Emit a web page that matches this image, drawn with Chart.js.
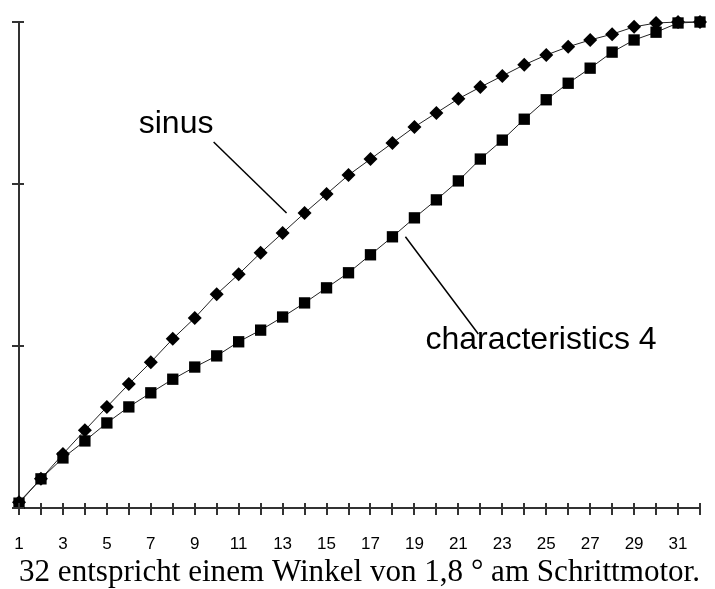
<!DOCTYPE html>
<html>
<head>
<meta charset="utf-8">
<script src="https://cdn.jsdelivr.net/npm/chart.js@4"></script>
<style>
  html, body { margin: 0; padding: 0; background: #fff; }
  canvas { display: block; }
</style>
</head>
<body>
<canvas id="myChart" width="715" height="589"></canvas>
<script>
const canvas = document.getElementById('myChart');
const ctx = canvas.getContext('2d');

// step number along the x axis
const steps = ['1', '2', '3', '4', '5', '6', '7', '8', '9', '10', '11', '12', '13', '14', '15', '16',
  '17', '18', '19', '20', '21', '22', '23', '24', '25', '26', '27', '28', '29', '30', '31', '32'];

// sine reference curve
const sinusValues = [0.012, 0.060, 0.111, 0.160, 0.208, 0.255, 0.300, 0.348, 0.391, 0.440, 0.481, 0.525,
  0.566, 0.607, 0.646, 0.685, 0.718, 0.751, 0.784, 0.813, 0.842, 0.866, 0.889, 0.912,
  0.932, 0.949, 0.963, 0.975, 0.990, 0.998, 1.000, 1.000];

// measured characteristics 4
const charValues = [0.010, 0.060, 0.103, 0.138, 0.175, 0.208, 0.237, 0.265, 0.290, 0.313, 0.342, 0.366,
  0.393, 0.422, 0.453, 0.484, 0.521, 0.558, 0.597, 0.634, 0.673, 0.718, 0.757, 0.800,
  0.840, 0.874, 0.905, 0.938, 0.963, 0.979, 0.998, 1.000];

const yTicks = [0, 0.3333, 0.6667, 1];

const caption = '32 entspricht einem Winkel von 1,8 \u00b0 am Schrittmotor.';

// callout labels with their leader lines, in data units (x = step index)
const notes = [
  { text: 'sinus', tx: 5.45, ty: 0.772, from: [8.86, 0.753], to: [12.18, 0.607] },
  { text: 'characteristics 4', tx: 18.5, ty: 0.327, from: [17.59, 0.558], to: [20.91, 0.358] }
];

// tick marks that cross the axis lines
const crossTicks = {
  id: 'crossTicks',
  afterDraw(chart) {
    const { ctx, scales: { x, y }, chartArea } = chart;
    ctx.save();
    ctx.strokeStyle = '#333';
    ctx.lineWidth = 2;
    ctx.beginPath();
    steps.forEach((s, i) => {
      const px = Math.round(x.getPixelForTick(i));
      ctx.moveTo(px, chartArea.bottom - 5);
      ctx.lineTo(px, chartArea.bottom + 7);
    });
    yTicks.forEach(v => {
      const py = Math.round(y.getPixelForValue(v));
      ctx.moveTo(chartArea.left - 7, py);
      ctx.lineTo(chartArea.left + 5, py);
    });
    ctx.stroke();
    ctx.restore();
  }
};

const callouts = {
  id: 'callouts',
  afterDraw(chart) {
    const { ctx, scales: { x, y } } = chart;
    ctx.save();
    ctx.fillStyle = '#000';
    ctx.strokeStyle = '#000';
    ctx.lineWidth = 1.5;
    ctx.font = '32px "Liberation Sans", Arial, sans-serif';
    ctx.textBaseline = 'alphabetic';
    notes.forEach(n => {
      ctx.fillText(n.text, x.getPixelForValue(n.tx), y.getPixelForValue(n.ty));
      ctx.beginPath();
      ctx.moveTo(x.getPixelForValue(n.from[0]), y.getPixelForValue(n.from[1]));
      ctx.lineTo(x.getPixelForValue(n.to[0]), y.getPixelForValue(n.to[1]));
      ctx.stroke();
    });
    ctx.restore();
  }
};

const myChart = new Chart(ctx, {
  type: 'line',
  data: {
    labels: steps,
    datasets: [
      {
        label: 'characteristics 4',
        data: charValues,
        borderColor: '#222',
        borderWidth: 1,
        backgroundColor: '#000',
        pointStyle: 'rect',
        pointRadius: 8,
        pointBorderWidth: 0,
        pointBackgroundColor: '#000',
        tension: 0,
        clip: false
      },
      {
        label: 'sinus',
        data: sinusValues,
        borderColor: '#222',
        borderWidth: 1,
        backgroundColor: '#000',
        pointStyle: 'rectRot',
        pointRadius: 7,
        pointBorderWidth: 0,
        pointBackgroundColor: '#000',
        tension: 0,
        clip: false
      }
    ]
  },
  options: {
    responsive: false,
    animation: false,
    layout: { padding: { left: 19, right: 15, top: 22, bottom: 0 } },
    plugins: {
      legend: { display: false },
      tooltip: { enabled: false }
    },
    scales: {
      x: {
        offset: false,
        grid: { display: false },
        border: { display: true, color: '#333', width: 2 },
        ticks: {
          autoSkip: false,
          maxRotation: 0,
          padding: 18,
          color: '#000',
          font: { family: '"Liberation Sans", Arial, sans-serif', size: 17 },
          callback: (val, i) => (i % 2 === 0 ? steps[i] : '')
        },
        title: {
          display: true,
          text: caption,
          color: '#000',
          font: { family: '"Liberation Serif", "Times New Roman", serif', size: 32, lineHeight: 1 },
          padding: { top: 0, bottom: 0 }
        },
        afterFit(scale) {
          scale.height = 81;
          scale.paddingLeft = 0;
          scale.paddingRight = 0;
        }
      },
      y: {
        min: 0,
        max: 1,
        grid: { display: false },
        border: { display: true, color: '#333', width: 2 },
        ticks: { display: false },
        afterBuildTicks(scale) { scale.ticks = yTicks.map(v => ({ value: v })); },
        afterFit(scale) {
          scale.width = 0;
          scale.paddingTop = 0;
          scale.paddingBottom = 0;
        }
      }
    }
  },
  plugins: [crossTicks, callouts]
});
</script>
</body>
</html>
